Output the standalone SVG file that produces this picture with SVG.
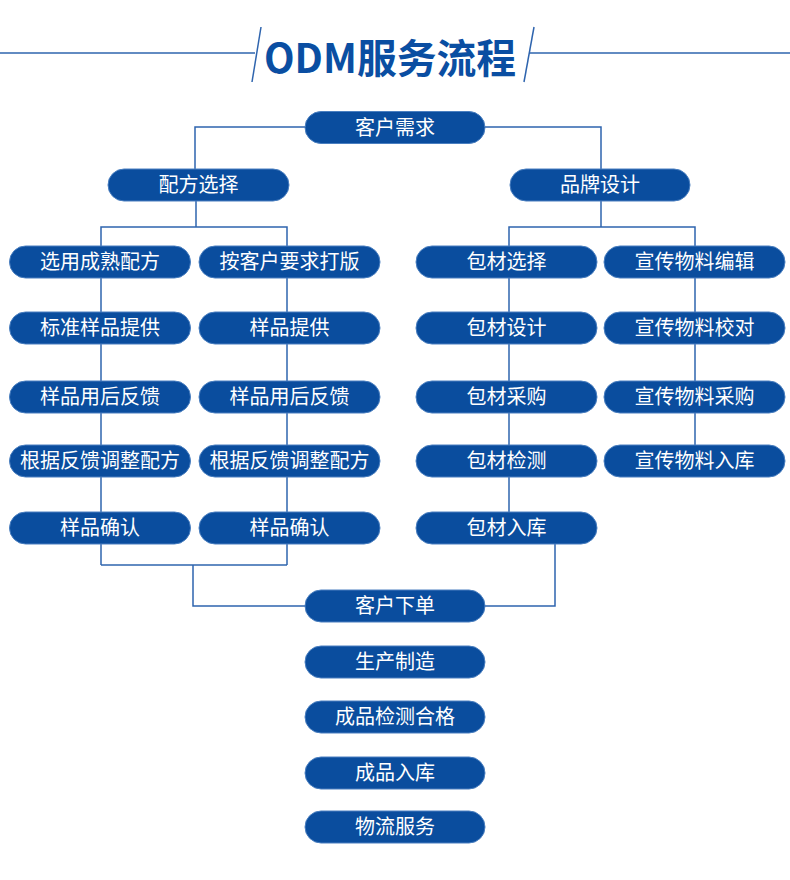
<svg xmlns="http://www.w3.org/2000/svg" width="790" height="880" viewBox="0 0 790 880">
<style>
.bg{fill:#ffffff}
.pill{fill:#0a4d9e;stroke:#4a7fc0;stroke-width:1}
.lbl{fill:#ffffff;font-family:"Noto Sans CJK SC","Noto Sans",sans-serif;font-size:20px;text-anchor:middle}
.ln{fill:none;stroke:#2e64ae;stroke-width:1.5}
.title{fill:#0a4ea2;font-family:"Noto Sans CJK SC","Noto Sans",sans-serif;font-size:40px;font-weight:bold}
</style>
<rect class="bg" x="0" y="0" width="790" height="880"/>
<g id="title">
<line class="ln" x1="0" y1="53" x2="255" y2="53" stroke-width="2"/>
<line class="ln" x1="529" y1="53" x2="790" y2="53" stroke-width="2"/>
<line class="ln" x1="261" y1="27" x2="252" y2="82" stroke-width="2"/>
<line class="ln" x1="534" y1="27" x2="524" y2="82" stroke-width="2"/>
<text class="title" x="264" y="73" textLength="252" lengthAdjust="spacingAndGlyphs">ODM服务流程</text>
</g>
<g id="connectors">
<polyline class="ln" points="305,127 195,127 195,169"/>
<polyline class="ln" points="485,127 601,127 601,169"/>
<line class="ln" x1="196" y1="201" x2="196" y2="227"/>
<line class="ln" x1="601" y1="201" x2="601" y2="227"/>
<polyline class="ln" points="101,246 101,227 287,227 287,246"/>
<polyline class="ln" points="509,246 509,227 695,227 695,246"/>
<line class="ln" x1="101" y1="246" x2="101" y2="565"/>
<line class="ln" x1="287" y1="246" x2="287" y2="565"/>
<line class="ln" x1="101" y1="565" x2="287" y2="565"/>
<polyline class="ln" points="193,565 193,606 305,606"/>
<line class="ln" x1="509" y1="246" x2="509" y2="512"/>
<line class="ln" x1="695" y1="246" x2="695" y2="461"/>
<polyline class="ln" points="555,544 555,606 485,606"/>
</g>
<g id="n_khxq"><rect class="pill" x="305" y="111.5" width="180" height="32" rx="16"/><text class="lbl" x="395" y="134.5">客户需求</text></g>
<g id="n_pfxz"><rect class="pill" x="108" y="169" width="181" height="32" rx="16"/><text class="lbl" x="198.5" y="192">配方选择</text></g>
<g id="n_ppsj"><rect class="pill" x="510" y="169" width="180" height="32" rx="16"/><text class="lbl" x="600" y="192">品牌设计</text></g>

<g id="n_a1"><rect class="pill" x="9.5" y="246" width="181" height="32" rx="16"/><text class="lbl" x="100" y="269">选用成熟配方</text></g>
<g id="n_b1"><rect class="pill" x="199" y="246" width="181" height="32" rx="16"/><text class="lbl" x="289.5" y="269">按客户要求打版</text></g>
<g id="n_c1"><rect class="pill" x="416" y="246" width="181" height="32" rx="16"/><text class="lbl" x="506.5" y="269">包材选择</text></g>
<g id="n_d1"><rect class="pill" x="604" y="246" width="181" height="32" rx="16"/><text class="lbl" x="694.5" y="269">宣传物料编辑</text></g>

<g id="n_a2"><rect class="pill" x="9.5" y="312" width="181" height="32" rx="16"/><text class="lbl" x="100" y="335">标准样品提供</text></g>
<g id="n_b2"><rect class="pill" x="199" y="312" width="181" height="32" rx="16"/><text class="lbl" x="289.5" y="335">样品提供</text></g>
<g id="n_c2"><rect class="pill" x="416" y="312" width="181" height="32" rx="16"/><text class="lbl" x="506.5" y="335">包材设计</text></g>
<g id="n_d2"><rect class="pill" x="604" y="312" width="181" height="32" rx="16"/><text class="lbl" x="694.5" y="335">宣传物料校对</text></g>

<g id="n_a3"><rect class="pill" x="9.5" y="381" width="181" height="32" rx="16"/><text class="lbl" x="100" y="404">样品用后反馈</text></g>
<g id="n_b3"><rect class="pill" x="199" y="381" width="181" height="32" rx="16"/><text class="lbl" x="289.5" y="404">样品用后反馈</text></g>
<g id="n_c3"><rect class="pill" x="416" y="381" width="181" height="32" rx="16"/><text class="lbl" x="506.5" y="404">包材采购</text></g>
<g id="n_d3"><rect class="pill" x="604" y="381" width="181" height="32" rx="16"/><text class="lbl" x="694.5" y="404">宣传物料采购</text></g>

<g id="n_a4"><rect class="pill" x="9.5" y="445" width="181" height="32" rx="16"/><text class="lbl" x="100" y="468">根据反馈调整配方</text></g>
<g id="n_b4"><rect class="pill" x="199" y="445" width="181" height="32" rx="16"/><text class="lbl" x="289.5" y="468">根据反馈调整配方</text></g>
<g id="n_c4"><rect class="pill" x="416" y="445" width="181" height="32" rx="16"/><text class="lbl" x="506.5" y="468">包材检测</text></g>
<g id="n_d4"><rect class="pill" x="604" y="445" width="181" height="32" rx="16"/><text class="lbl" x="694.5" y="468">宣传物料入库</text></g>

<g id="n_a5"><rect class="pill" x="9.5" y="512" width="181" height="32" rx="16"/><text class="lbl" x="100" y="535">样品确认</text></g>
<g id="n_b5"><rect class="pill" x="199" y="512" width="181" height="32" rx="16"/><text class="lbl" x="289.5" y="535">样品确认</text></g>
<g id="n_c5"><rect class="pill" x="416" y="512" width="181" height="32" rx="16"/><text class="lbl" x="506.5" y="535">包材入库</text></g>

<g id="n_khxd"><rect class="pill" x="305" y="590" width="180" height="32" rx="16"/><text class="lbl" x="395" y="613">客户下单</text></g>
<g id="n_sczz"><rect class="pill" x="305" y="646" width="180" height="32" rx="16"/><text class="lbl" x="395" y="669">生产制造</text></g>
<g id="n_cpjc"><rect class="pill" x="305" y="701" width="180" height="32" rx="16"/><text class="lbl" x="395" y="724">成品检测合格</text></g>
<g id="n_cprk"><rect class="pill" x="305" y="757" width="180" height="32" rx="16"/><text class="lbl" x="395" y="780">成品入库</text></g>
<g id="n_wlfw"><rect class="pill" x="305" y="811" width="180" height="32" rx="16"/><text class="lbl" x="395" y="834">物流服务</text></g>
</svg>
